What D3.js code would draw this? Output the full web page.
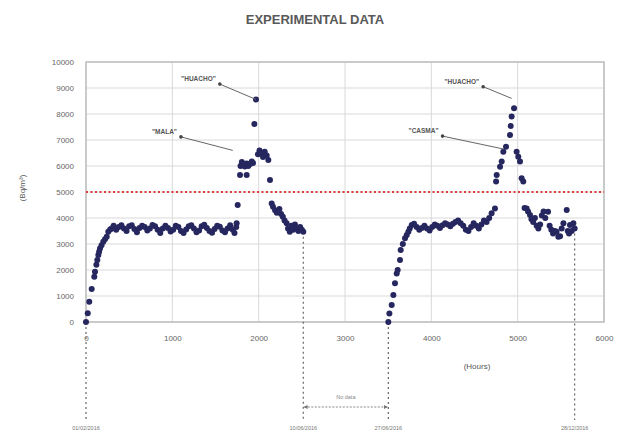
<!DOCTYPE html>
<html><head><meta charset="utf-8">
<script src="https://cdn.jsdelivr.net/npm/d3@7"></script>
<style>body{margin:0;background:#fff}svg{display:block}text{font-family:"Liberation Sans",Arial,sans-serif}</style>
</head><body><svg id="c" width="619" height="432"></svg>
<script>
const title = "EXPERIMENTAL DATA";
const xTicks = [0,1000,2000,3000,4000,5000,6000];
const yTicks = [0,1000,2000,3000,4000,5000,6000,7000,8000,9000,10000];
const limitValue = 5000;
// [hours, Bq/m3]
const segment1 = [[0,0],[20,340],[38,780],[66,1270],[96,1740],[104,1930],[120,2200],[131,2380],[143,2580],[152,2700],[162,2830],[180,2950],[200,3090],[220,3180],[240,3280],[258,3470],[280,3560],[297,3600],
[320,3700],[350,3550],[380,3650],[410,3720],[440,3600],[470,3500],[500,3680],[530,3720],[560,3580],[590,3450],[620,3620],[650,3700],[680,3650],[710,3520],[740,3600],[770,3730],[800,3680],[830,3550],[860,3420],[890,3600],[920,3700],[950,3620],[980,3480],[1010,3550],[1040,3700],[1070,3650],[1100,3500],[1130,3420],[1160,3560],[1190,3680],[1220,3720],[1250,3600],[1280,3450],[1310,3520],[1340,3680],[1370,3740],[1400,3620],[1430,3500],[1460,3430],[1490,3580],[1520,3700],[1550,3660],[1580,3520],[1610,3450],[1640,3600],[1670,3720],[1700,3550],[1720,3420],[1740,3650],
[1745,3800],[1757,4500],[1784,5650],[1861,5650],[1790,6000],[1805,6150],[1820,6050],[1840,5980],[1860,6100],[1880,6000],[1900,6080],[1920,6170],[1935,6120],[1950,7615],[1969,8560],[1992,6450],[2010,6600],[2030,6500],[2050,6350],[2070,6550],[2093,6400],[2112,6230],[2131,5460],[2151,4560],[2166,4430],[2190,4300],[2210,4200],[2240,4350],[2260,4150],[2280,4050],[2300,3900],[2324,3800],[2340,3600],[2360,3470],[2380,3700],[2400,3550],[2420,3750],[2440,3600],[2460,3500],[2480,3650],[2500,3550],[2517,3470]];
const segment2 = [[3502,0],[3514,330],[3541,650],[3560,1040],[3579,1490],[3599,1870],[3610,2000],[3637,2380],[3645,2770],[3670,3000],[3695,3220],[3715,3350],[3734,3470],[3750,3600],[3773,3730],
[3800,3780],[3830,3650],[3860,3550],[3890,3620],[3920,3700],[3950,3600],[3980,3520],[4010,3650],[4040,3750],[4070,3700],[4100,3620],[4130,3720],[4160,3800],[4190,3750],[4220,3680],[4250,3780],[4280,3850],[4310,3900],[4340,3800],[4370,3700],[4400,3550],[4430,3500],[4460,3650],[4490,3800],[4520,3700],[4550,3600],[4580,3750],[4610,3900],[4640,3850],[4670,4000],[4698,4180],[4737,4370],
[4750,5400],[4757,5650],[4796,5970],[4815,6170],[4834,6550],[4865,6740],[4911,7190],[4919,7540],[4930,7900],[4958,8220],[4988,6550],[5007,6360],[5027,6170],[5046,5530],[5065,5400],
[5080,4380],[5104,4370],[5120,4250],[5143,4120],[5160,3950],[5180,3850],[5200,4000],[5220,3700],[5240,3600],[5260,3750],[5280,4100],[5300,4250],[5320,4000],[5352,4240],[5370,3700],[5390,3550],[5410,3400],[5430,3500],[5451,3470],[5471,3280],[5491,3300],[5510,3600],[5530,3800],[5568,4310],[5580,3500],[5595,3400],[5606,3730],[5625,3500],[5645,3800],[5660,3600]];
const annotations = [
  {label:'"HUACHO"', tx:1550, ty:9150, px:1969, py:8560},
  {label:'"MALA"', tx:1100, ty:7120, px:1700, py:6600},
  {label:'"HUACHO"', tx:4600, ty:9050, px:4930, py:8600},
  {label:'"CASMA"', tx:4130, ty:7150, px:4840, py:6650}
];
const markers = [
  {h:0, v:0, date:"01/02/2016"},
  {h:2517, v:3470, date:"10/06/2016"},
  {h:3502, v:0, date:"27/06/2016"},
  {h:5660, v:3600, date:"28/12/2016"}
];
const noDataLabel = "No data";
const xLabel = "(Hours)";

const svg = d3.select("#c");
const x = d3.scaleLinear().domain([0,6000]).range([86,604]);
const y = d3.scaleLinear().domain([0,10000]).range([322,62]);

svg.append("text").attr("x",315).attr("y",24).attr("text-anchor","middle")
  .attr("font-size",13).attr("font-weight","bold").attr("fill","#595959").text(title);

// grid
svg.append("g").selectAll("line").data(yTicks).join("line")
  .attr("x1",x(0)).attr("x2",x(6000)).attr("y1",d=>y(d)).attr("y2",d=>y(d))
  .attr("stroke","#d9d9d9").attr("stroke-width",1);
svg.append("g").selectAll("line").data(xTicks).join("line")
  .attr("y1",y(0)).attr("y2",y(10000)).attr("x1",d=>x(d)).attr("x2",d=>x(d))
  .attr("stroke","#d9d9d9").attr("stroke-width",1);
svg.append("rect").attr("x",x(0)).attr("y",y(10000)).attr("width",x(6000)-x(0)).attr("height",y(0)-y(10000))
  .attr("fill","none").attr("stroke","#bfbfbf").attr("stroke-width",1.5);

// axes labels
const yAxis = d3.axisLeft(y).tickValues(yTicks).tickSize(0).tickPadding(0).tickFormat(d3.format("d"));
const gy = svg.append("g").attr("transform","translate(74,0)").call(yAxis);
gy.select(".domain").remove();
gy.selectAll("text").attr("font-size",8).attr("fill","#666").attr("font-family","Liberation Sans, Arial, sans-serif");
const xAxis = d3.axisBottom(x).tickValues(xTicks).tickSize(0).tickPadding(0).tickFormat(d3.format("d"));
const gx = svg.append("g").attr("transform","translate(0,335)").call(xAxis);
gx.select(".domain").remove();
gx.selectAll("text").attr("font-size",8).attr("fill","#666").attr("font-family","Liberation Sans, Arial, sans-serif");

svg.append("text").attr("transform","translate(25,188) rotate(-90)").attr("text-anchor","middle")
  .attr("font-size",8).attr("fill","#555").text("(Bq/m³)");
svg.append("text").attr("x",477).attr("y",369).attr("text-anchor","middle")
  .attr("font-size",8).attr("fill","#555").text(xLabel);

// limit
svg.append("line").attr("x1",x(0)).attr("x2",x(6000)).attr("y1",y(limitValue)).attr("y2",y(limitValue))
  .attr("stroke","#e23b3b").attr("stroke-width",2).attr("stroke-dasharray","2,2.5");

// vertical dashed markers
svg.append("g").selectAll("line").data(markers).join("line")
  .attr("x1",d=>x(d.h)).attr("x2",d=>x(d.h)).attr("y1",d=>y(d.v)).attr("y2",420)
  .attr("stroke","#666").attr("stroke-width",1.2).attr("stroke-dasharray","2,3");
svg.append("g").selectAll("text").data(markers).join("text")
  .attr("x",d=>x(d.h)).attr("y",430).attr("text-anchor","middle")
  .attr("font-size",5.5).attr("fill","#777").text(d=>d.date);

// no data arrow
const defs = svg.append("defs");
defs.append("marker").attr("id","ah").attr("viewBox","0 0 6 6").attr("refX",5).attr("refY",3)
  .attr("markerWidth",4).attr("markerHeight",4).attr("orient","auto-start-reverse")
  .append("path").attr("d","M0,0L6,3L0,6Z").attr("fill","#777");
svg.append("line").attr("x1",x(markers[1].h)+1).attr("x2",x(markers[2].h)-1).attr("y1",407).attr("y2",407)
  .attr("stroke","#888").attr("stroke-width",1).attr("stroke-dasharray","2,1.5")
  .attr("marker-start","url(#ah)").attr("marker-end","url(#ah)");
svg.append("text").attr("x",(x(markers[1].h)+x(markers[2].h))/2).attr("y",399).attr("text-anchor","middle")
  .attr("font-size",5.5).attr("fill","#888").text(noDataLabel);

// data points
const pts = segment1.concat(segment2);
svg.append("g").selectAll("circle").data(pts).join("circle")
  .attr("cx",d=>x(d[0])).attr("cy",d=>y(d[1])).attr("r",3)
  .attr("fill","#26275f");

// annotations
const ag = svg.append("g");
annotations.forEach(a=>{
  ag.append("line").attr("x1",x(a.tx)).attr("y1",y(a.ty)).attr("x2",x(a.px)).attr("y2",y(a.py))
    .attr("stroke","#666").attr("stroke-width",1);
  ag.append("circle").attr("cx",x(a.tx)).attr("cy",y(a.ty)).attr("r",1.8).attr("fill","#444");
  ag.append("text").attr("x",x(a.tx)-4).attr("y",y(a.ty)-3).attr("text-anchor","end")
    .attr("font-size",6.5).attr("font-weight","bold").attr("fill","#555").text(a.label);
});
</script></body></html>
